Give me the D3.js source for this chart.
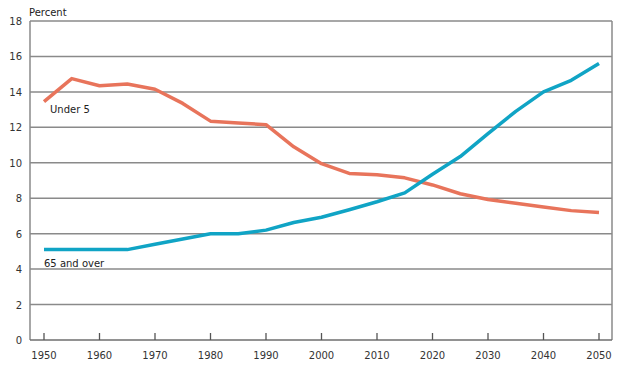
<!DOCTYPE html>
<html><head><meta charset="utf-8">
<script src="https://cdn.jsdelivr.net/npm/d3@7"></script>
<style>body{margin:0;background:#fff}svg{display:block}text{font-family:"DejaVu Sans",sans-serif}</style>
</head><body><svg id="c" width="630" height="366"></svg>
<script>
const years = [1950,1955,1960,1965,1970,1975,1980,1985,1990,1995,2000,2005,2010,2015,2020,2025,2030,2035,2040,2045,2050];
const under5 = [13.45,14.75,14.35,14.45,14.15,13.35,12.35,12.25,12.15,10.9,9.95,9.4,9.32,9.15,8.75,8.25,7.93,7.72,7.5,7.3,7.2];
const over65 = [5.1,5.1,5.1,5.1,5.4,5.7,6.0,6.0,6.2,6.63,6.93,7.35,7.8,8.3,9.35,10.35,11.65,12.9,14.0,14.65,15.6];
const yTicks = [0,2,4,6,8,10,12,14,16,18];
const xTicks = [1950,1960,1970,1980,1990,2000,2010,2020,2030,2040,2050];

const svg = d3.select("#c");
const x = d3.scaleLinear().domain([1950,2050]).range([44,599]);
const y = d3.scaleLinear().domain([0,18]).range([340,21]);
const L = 30, R = 612;

// gridlines
svg.append("g").selectAll("line").data(yTicks.filter(d=>d>0)).join("line")
  .attr("x1",L).attr("x2",R).attr("y1",d=>y(d)).attr("y2",d=>y(d))
  .attr("stroke","#8a8a8a").attr("stroke-width",1.5);
// frame
svg.append("line").attr("x1",L).attr("x2",L).attr("y1",y(18)).attr("y2",y(0)).attr("stroke","#8a8a8a").attr("stroke-width",1.5);
svg.append("line").attr("x1",R).attr("x2",R).attr("y1",y(18)).attr("y2",y(0)).attr("stroke","#8a8a8a").attr("stroke-width",1.5);
svg.append("line").attr("x1",L).attr("x2",R).attr("y1",y(0)).attr("y2",y(0)).attr("stroke","#6e6e6e").attr("stroke-width",1.5);

// x ticks
svg.append("g").selectAll("line").data(xTicks).join("line")
  .attr("x1",d=>x(d)).attr("x2",d=>x(d)).attr("y1",y(0)).attr("y2",y(0)-7)
  .attr("stroke","#555").attr("stroke-width",1.3);
svg.append("g").selectAll("text").data(xTicks).join("text")
  .attr("x",d=>x(d)).attr("y",359).attr("text-anchor","middle")
  .attr("font-size",10).attr("fill","#333").text(d=>d);
// y labels
svg.append("g").selectAll("text").data(yTicks).join("text")
  .attr("x",22).attr("y",d=>y(d)+4).attr("text-anchor","end")
  .attr("font-size",10).attr("fill","#333").text(d=>d);
svg.append("text").attr("x",29).attr("y",16).attr("font-size",10).attr("fill","#222").text("Percent");

const line = d3.line().x((d,i)=>x(years[i])).y(d=>y(d));
svg.append("path").datum(under5).attr("d",line).attr("fill","none")
  .attr("stroke","#E8745B").attr("stroke-width",3.5).attr("stroke-linejoin","round");
svg.append("path").datum(over65).attr("d",line).attr("fill","none")
  .attr("stroke","#10A4C5").attr("stroke-width",3.5).attr("stroke-linejoin","round");

svg.append("text").attr("x",50).attr("y",113).attr("font-size",10).attr("fill","#222").text("Under 5");
svg.append("text").attr("x",44).attr("y",267).attr("font-size",10).attr("fill","#222").text("65 and over");
</script></body></html>
